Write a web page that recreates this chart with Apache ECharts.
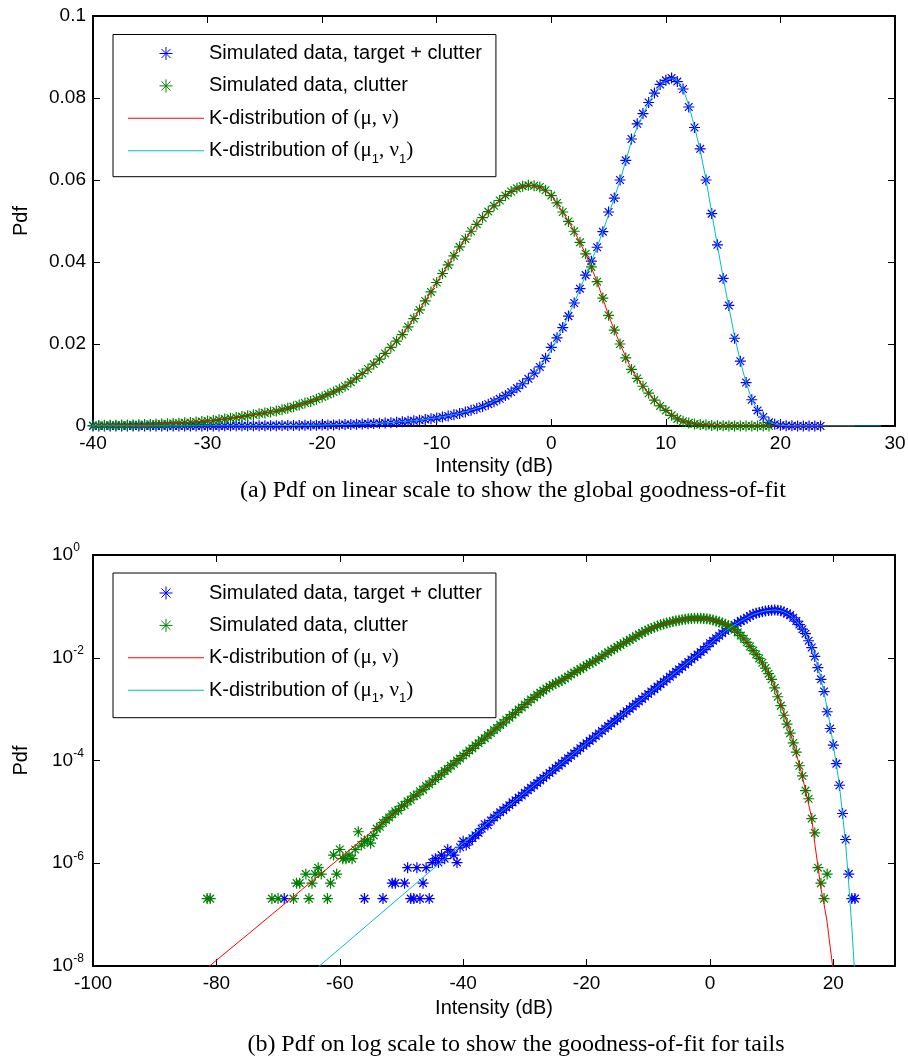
<!DOCTYPE html>
<html>
<head>
<meta charset="utf-8">
<script src="https://cdn.jsdelivr.net/npm/echarts@6.0.0/dist/echarts.min.js"></script>
<style>
html,body{margin:0;padding:0;background:#ffffff;}
#chart{width:908px;height:1059px;}
</style>
</head>
<body>
<div id="chart"></div>
<script>
// ---------------- data ----------------
const seriesNames = [
  'Simulated data, target + clutter',
  'Simulated data, clutter',
  'K-distribution of (\u03bc, \u03bd)',
  'K-distribution of (\u03bc\u2081, \u03bd\u2081)'
];
const captions = [
  '(a) Pdf on linear scale to show the global goodness-of-fit',
  '(b) Pdf on log scale to show the goodness-of-fit for tails'
];
const axisTitleX = 'Intensity (dB)';
const axisTitleY = 'Pdf';
const linearX = [-40, 30, 10];     // min, max, step
const linearY = [0, 0.1, 0.02];
const logX = [-100, 30, 20];
const logYExp = [-8, 0, 2];        // decades shown on the log axis

// histogram bin centres (dB)
const binDb = [
  -81.5,-81,-80.5,-80,-79.5,-79,-78.5,-78,-77.5,-77,
  -76.5,-76,-75.5,-75,-74.5,-74,-73.5,-73,-72.5,-72,
  -71.5,-71,-70.5,-70,-69.5,-69,-68.5,-68,-67.5,-67,
  -66.5,-66,-65.5,-65,-64.5,-64,-63.5,-63,-62.5,-62,
  -61.5,-61,-60.5,-60,-59.5,-59,-58.5,-58,-57.5,-57,
  -56.5,-56,-55.5,-55,-54.5,-54,-53.5,-53,-52.5,-52,
  -51.5,-51,-50.5,-50,-49.5,-49,-48.5,-48,-47.5,-47,
  -46.5,-46,-45.5,-45,-44.5,-44,-43.5,-43,-42.5,-42,
  -41.5,-41,-40.5,-40,-39.5,-39,-38.5,-38,-37.5,-37,
  -36.5,-36,-35.5,-35,-34.5,-34,-33.5,-33,-32.5,-32,
  -31.5,-31,-30.5,-30,-29.5,-29,-28.5,-28,-27.5,-27,
  -26.5,-26,-25.5,-25,-24.5,-24,-23.5,-23,-22.5,-22,
  -21.5,-21,-20.5,-20,-19.5,-19,-18.5,-18,-17.5,-17,
  -16.5,-16,-15.5,-15,-14.5,-14,-13.5,-13,-12.5,-12,
  -11.5,-11,-10.5,-10,-9.5,-9,-8.5,-8,-7.5,-7,
  -6.5,-6,-5.5,-5,-4.5,-4,-3.5,-3,-2.5,-2,
  -1.5,-1,-0.5,0,0.5,1,1.5,2,2.5,3,
  3.5,4,4.5,5,5.5,6,6.5,7,7.5,8,
  8.5,9,9.5,10,10.5,11,11.5,12,12.5,13,
  13.5,14,14.5,15,15.5,16,16.5,17,17.5,18,
  18.5,19,19.5,20,20.5,21,21.5,22,22.5,23,
  23.5
];

// simulated data, target + clutter (blue stars)
const targetPdf = [
  0,0,0,0,0,0,0,0,0,0,
  0,0,0,0,0,0,0,0,0,0,
  0,0,0,0,0,2.05e-7,0,0,0,0,
  0,0,0,0,0,0,0,0,0,0,
  0,0,0,0,0,0,0,0,0,0,
  0,2.05e-7,0,0,0,0,0,2.05e-7,0,0,
  4.1e-7,4.1e-7,0,0,4.1e-7,8.2e-7,2.05e-7,2.05e-7,8.2e-7,2.05e-7,
  4.1e-7,8.2e-7,2.05e-7,1.03e-6,1.23e-6,1.03e-6,1.44e-6,1.23e-6,1.85e-6,1.64e-6,
  1.44e-6,1.03e-6,2.05e-6,2.67e-6,2.26e-6,2.67e-6,3.08e-6,3.49e-6,3.9e-6,4.72e-6,
  5.74e-6,5.54e-6,6.77e-6,7.79e-6,8.6e-6,9.8e-6,1.08e-5,1.22e-5,1.34e-5,1.53e-5,
  1.68e-5,1.9e-5,2.08e-5,2.35e-5,2.63e-5,2.93e-5,3.28e-5,3.66e-5,4.09e-5,4.57e-5,
  5.1e-5,5.7e-5,6.37e-5,7.12e-5,7.95e-5,8.88e-5,9.92e-5,1.11e-4,1.24e-4,1.38e-4,
  1.55e-4,1.73e-4,1.93e-4,2.16e-4,2.41e-4,2.69e-4,3.0e-4,3.36e-4,3.75e-4,4.19e-4,
  4.68e-4,5.23e-4,5.84e-4,6.52e-4,7.28e-4,8.13e-4,9.08e-4,1.01e-3,1.13e-3,1.27e-3,
  1.41e-3,1.58e-3,1.76e-3,1.97e-3,2.2e-3,2.45e-3,2.74e-3,3.06e-3,3.42e-3,3.82e-3,
  4.26e-3,4.76e-3,5.32e-3,5.94e-3,6.63e-3,7.41e-3,8.28e-3,9.24e-3,1.03e-2,1.15e-2,
  1.29e-2,1.44e-2,1.65e-2,1.92e-2,2.15e-2,2.4e-2,2.68e-2,3.0e-2,3.35e-2,3.68e-2,
  4.02e-2,4.36e-2,4.74e-2,5.22e-2,5.56e-2,6.0e-2,6.48e-2,7.0e-2,7.37e-2,7.62e-2,
  7.89e-2,8.12e-2,8.33e-2,8.43e-2,8.49e-2,8.4e-2,8.22e-2,7.78e-2,7.28e-2,6.76e-2,
  6.0e-2,5.18e-2,4.42e-2,3.6e-2,2.94e-2,2.14e-2,1.58e-2,1.06e-2,6.4e-3,3.8e-3,
  2.2e-3,8.9e-4,4.2e-4,2.0e-4,8.7e-5,3.3e-5,9.3e-6,2.9e-6,6.15e-7,2.05e-7,
  2.05e-7
];

// simulated data, clutter only (green stars)
const clutterPdf = [
  2.05e-7,2.05e-7,0,0,0,0,0,0,0,0,
  0,0,0,0,0,0,0,0,0,0,
  0,2.05e-7,0,2.05e-7,0,0,0,0,2.05e-7,4.1e-7,
  4.1e-7,0,6.15e-7,2.05e-7,4.1e-7,6.15e-7,8.2e-7,6.15e-7,0,2.05e-7,
  4.1e-7,1.44e-6,6.15e-7,1.85e-6,1.23e-6,1.23e-6,1.44e-6,1.23e-6,1.85e-6,4.1e-6,
  2.26e-6,2.67e-6,2.87e-6,2.46e-6,3.49e-6,4.72e-6,5.13e-6,6.15e-6,6.97e-6,7.79e-6,
  9.02e-6,1.03e-5,1.07e-5,1.29e-5,1.36e-5,1.6e-5,1.72e-5,2.03e-5,2.15e-5,2.52e-5,
  2.71e-5,3.18e-5,3.44e-5,3.99e-5,4.31e-5,5.02e-5,5.45e-5,6.28e-5,6.85e-5,7.92e-5,
  8.61e-5,9.95e-5,1.09e-4,1.25e-4,1.37e-4,1.57e-4,1.72e-4,1.97e-4,2.16e-4,2.49e-4,
  2.72e-4,3.12e-4,3.42e-4,3.92e-4,4.31e-4,4.94e-4,5.42e-4,6.21e-4,6.82e-4,7.8e-4,
  8.59e-4,9.81e-4,1.08e-3,1.23e-3,1.36e-3,1.54e-3,1.69e-3,1.9e-3,2.08e-3,2.29e-3,
  2.52e-3,2.75e-3,2.98e-3,3.2e-3,3.42e-3,3.65e-3,3.95e-3,4.3e-3,4.72e-3,5.15e-3,
  5.6e-3,6.0e-3,6.5e-3,7.1e-3,7.7e-3,8.3e-3,8.95e-3,9.7e-3,1.07e-2,1.17e-2,
  1.28e-2,1.39e-2,1.51e-2,1.63e-2,1.77e-2,1.92e-2,2.07e-2,2.23e-2,2.42e-2,2.62e-2,
  2.83e-2,3.05e-2,3.27e-2,3.5e-2,3.72e-2,3.93e-2,4.15e-2,4.37e-2,4.56e-2,4.75e-2,
  4.92e-2,5.08e-2,5.23e-2,5.37e-2,5.5e-2,5.62e-2,5.72e-2,5.8e-2,5.85e-2,5.87e-2,
  5.86e-2,5.83e-2,5.75e-2,5.62e-2,5.44e-2,5.22e-2,4.99e-2,4.75e-2,4.48e-2,4.2e-2,
  3.88e-2,3.52e-2,3.12e-2,2.7e-2,2.34e-2,2.0e-2,1.66e-2,1.38e-2,1.16e-2,9.7e-3,
  8.0e-3,6.3e-3,4.9e-3,3.8e-3,2.6e-3,1.74e-3,1.17e-3,7.6e-4,5.1e-4,3.4e-4,
  2.2e-4,1.45e-4,7.9e-5,5.0e-5,2.6e-5,1.8e-5,7.4e-6,3.9e-6,8.2e-7,4.1e-7,
  2.05e-7,6.15e-7,null,null,null,null,null,null,null,null,
  null
];

// fitted K-distribution of (mu, nu)  (red line)
const clutterFitDb = [
  -82,-80,-75,-70,-65,-60,-55,-50,-45,-40,-35,-30,-28,
  -27,-26,-25,-24,-23,-22,-21,-20,-19,-18,
  -17,-16,-15,-14,-13,-12,-11,-10,-9,-8,
  -7,-6,-5,-4,-3,-2,-1,0,1,2,
  3,4,5,6,7,8,9,10,
  10.5,11,11.5,12,12.5,13,13.5,14,14.5,15,
  15.5,16,16.5,17,17.5,18,18.5,19,19.5,20,
  21,22,24,26.5
];
const clutterFitPdf = [
  8.1e-9,1.29e-8,4.04e-8,1.27e-7,3.99e-7,1.26e-6,3.94e-6,1.24e-5,3.9e-5,1.23e-4,3.86e-4,1.21e-3,1.89e-3,
  2.29e-3,2.75e-3,3.2e-3,3.65e-3,4.3e-3,5.15e-3,6.0e-3,7.1e-3,8.3e-3,9.7e-3,
  1.17e-2,1.39e-2,1.63e-2,1.92e-2,2.23e-2,2.62e-2,3.05e-2,3.5e-2,3.93e-2,4.37e-2,
  4.75e-2,5.08e-2,5.37e-2,5.62e-2,5.8e-2,5.87e-2,5.83e-2,5.62e-2,5.22e-2,4.75e-2,
  4.2e-2,3.52e-2,2.7e-2,2.0e-2,1.38e-2,9.7e-3,6.3e-3,3.8e-3,
  2.7e-3,1.86e-3,1.26e-3,8.3e-4,5.4e-4,3.5e-4,2.2e-4,1.38e-4,8.1e-5,4.8e-5,
  2.6e-5,1.4e-5,7.6e-6,2.4e-6,8.9e-7,3.2e-7,1.6e-7,7.1e-8,2.3e-8,7.9e-9,
  4e-10,1e-11,3e-15,1e-19
];

// fitted K-distribution of (mu1, nu1)  (cyan line)
const targetFitDb = [
  -64,-60,-55,-50,-45,-40,-35,-30,-25,-20,-15,
  -12,-10,-8,-6,-4,
  -3,-2,-1,0,1,2,3,4,5,6,7,8,9,10,
  10.5,11,11.5,12,12.5,13,13.5,14,14.5,15,
  15.5,16,16.5,17,17.5,18,18.5,19,19.5,20,
  20.5,21,21.5,22,22.5,23,23.5,
  24,25,26,27,28.8
];
const targetFitPdf = [
  8.5e-9,2.18e-8,7.1e-8,2.32e-7,7.55e-7,2.46e-6,7.8e-6,2.37e-5,7.18e-5,2.16e-4,6.52e-4,
  1.27e-3,1.97e-3,3.06e-3,4.76e-3,7.41e-3,
  9.24e-3,1.15e-2,1.44e-2,1.86e-2,2.4e-2,3.0e-2,3.68e-2,4.36e-2,5.15e-2,5.98e-2,6.95e-2,7.6e-2,8.13e-2,8.43e-2,
  8.48e-2,8.42e-2,8.22e-2,7.82e-2,7.3e-2,6.72e-2,6.02e-2,5.2e-2,4.4e-2,3.62e-2,
  2.9e-2,2.18e-2,1.58e-2,1.06e-2,6.5e-3,3.9e-3,2.1e-3,1.05e-3,4.7e-4,2.0e-4,
  8.3e-5,3.2e-5,8.9e-6,2.4e-6,4.0e-7,5.6e-8,6.3e-9,
  5e-10,3e-12,1.6e-14,1e-16,1e-20
];

// ---------------- chart ----------------
const FONT = '"Liberation Sans", Arial, sans-serif';
const SERIF = '"Liberation Serif", "Times New Roman", serif';
const BLACK = '#000000';
const COLORS = ['#0000ff', '#008000', '#ff0000', '#00bfbf'];
const STAR = 'path://M0,-1L0,1M-1,0L1,0M-0.7,-0.7L0.7,0.7M-0.7,0.7L0.7,-0.7';
const LINE_ICON = 'path://M0,0H76V1H0Z';

function pairs(xs, ys, logMode) {
  const out = [];
  for (let i = 0; i < xs.length; i++) {
    const v = ys[i];
    if (v === null || v === undefined) continue;
    if (logMode && !(v > 0)) continue;
    out.push([xs[i], v]);
  }
  return out;
}

function starSeries(k, data, xi, yi) {
  return {
    type: 'scatter', name: seriesNames[k], xAxisIndex: xi, yAxisIndex: yi, data: data,
    symbol: STAR, symbolSize: 11, clip: true, silent: true, z: 2,
    itemStyle: { color: COLORS[k], borderColor: COLORS[k], borderWidth: 1.2, opacity: 1 },
    emphasis: { disabled: true }
  };
}
function lineSeries(k, data, xi, yi) {
  return {
    type: 'line', name: seriesNames[k], xAxisIndex: xi, yAxisIndex: yi, data: data,
    symbol: 'none', showSymbol: false, clip: true, silent: true, z: 3,
    lineStyle: { color: COLORS[k], width: 1 }, itemStyle: { color: COLORS[k] },
    emphasis: { disabled: true }
  };
}

function frameAxis(extra) {
  return Object.assign({
    type: 'value',
    axisLine: { show: true, onZero: false, lineStyle: { color: BLACK, width: 2 } },
    axisTick: { show: true, inside: true, length: 7, lineStyle: { color: BLACK, width: 1 } },
    axisLabel: { show: false },
    splitLine: { show: false },
    minorTick: { show: false },
    silent: true
  }, extra);
}
function tickLabel(margin, extra) {
  return Object.assign({ show: true, color: BLACK, fontFamily: FONT, fontSize: 19, margin: margin }, extra || {});
}
const nameStyle = { color: BLACK, fontFamily: FONT, fontSize: 20 };

const legendLabels = {};
legendLabels[seriesNames[0]] = '{t|' + seriesNames[0] + '}';
legendLabels[seriesNames[1]] = '{t|' + seriesNames[1] + '}';
legendLabels[seriesNames[2]] = '{t|K-distribution of }{g|(\u03bc, \u03bd)}';
legendLabels[seriesNames[3]] = '{t|K-distribution of }{g|(\u03bc}{s|1}{g|, \u03bd}{s|1}{g|)}';

function legendFor(top, padTop, padBottom) {
  return {
    show: true, orient: 'vertical', left: 113, top: top,
    padding: [padTop, 14, padBottom, 15],
    itemWidth: 76, itemHeight: 13, itemGap: 2.4,
    backgroundColor: '#ffffff', borderColor: BLACK, borderWidth: 1,
    symbolKeepAspect: true, selectedMode: false, z: 10,
    data: [
      { name: seriesNames[0], icon: STAR, itemStyle: { color: COLORS[0], borderColor: COLORS[0], borderWidth: 1 } },
      { name: seriesNames[1], icon: STAR, itemStyle: { color: COLORS[1], borderColor: COLORS[1], borderWidth: 1 } },
      { name: seriesNames[2], icon: LINE_ICON, itemStyle: { color: COLORS[2], borderWidth: 0 } },
      { name: seriesNames[3], icon: LINE_ICON, itemStyle: { color: COLORS[3], borderWidth: 0 } }
    ],
    formatter: function (n) { return legendLabels[n] || n; },
    textStyle: {
      color: BLACK, fontFamily: FONT, fontSize: 20, lineHeight: 30,
      rich: {
        t: { color: BLACK, fontFamily: FONT, fontSize: 20, lineHeight: 30 },
        g: { color: BLACK, fontFamily: SERIF, fontSize: 21, lineHeight: 30 },
        s: { color: BLACK, fontFamily: FONT, fontSize: 13, lineHeight: 8, verticalAlign: 'bottom' }
      }
    }
  };
}

const option = {
  animation: false,
  backgroundColor: '#ffffff',
  textStyle: { fontFamily: FONT },
  grid: [
    { left: 93, top: 16, width: 802, height: 410, show: false, containLabel: false, outerBoundsMode: 'none' },
    { left: 93, top: 555, width: 802, height: 411, show: false, containLabel: false, outerBoundsMode: 'none' }
  ],
  legend: [legendFor(34.5, 4, 11), legendFor(573, 5, 12.5)],
  xAxis: [
    frameAxis({ gridIndex: 0, position: 'bottom', min: linearX[0], max: linearX[1], interval: linearX[2],
      axisLabel: tickLabel(8), name: axisTitleX, nameLocation: 'middle', nameGap: 30, nameTextStyle: nameStyle }),
    frameAxis({ gridIndex: 0, position: 'top', min: linearX[0], max: linearX[1], interval: linearX[2] }),
    frameAxis({ gridIndex: 1, position: 'bottom', min: logX[0], max: logX[1], interval: logX[2],
      axisLabel: tickLabel(8, { showMaxLabel: false }), name: axisTitleX, nameLocation: 'middle', nameGap: 32, nameTextStyle: nameStyle }),
    frameAxis({ gridIndex: 1, position: 'top', min: logX[0], max: logX[1], interval: logX[2] })
  ],
  yAxis: [
    frameAxis({ gridIndex: 0, position: 'left', min: linearY[0], max: linearY[1], interval: linearY[2],
      axisLabel: tickLabel(7), name: axisTitleY, nameLocation: 'middle', nameGap: 62, nameTextStyle: nameStyle }),
    frameAxis({ gridIndex: 0, position: 'right', min: linearY[0], max: linearY[1], interval: linearY[2] }),
    frameAxis({ gridIndex: 1, position: 'left', min: logYExp[0], max: logYExp[1], interval: logYExp[2],
      axisLabel: tickLabel(41, {
        align: 'left',
        formatter: function (v) { return '{b|10}{p|' + v + '}'; },
        rich: {
          b: { color: BLACK, fontFamily: FONT, fontSize: 19, lineHeight: 26 },
          p: { color: BLACK, fontFamily: FONT, fontSize: 12, lineHeight: 12, verticalAlign: 'top' }
        }
      }),
      name: axisTitleY, nameLocation: 'middle', nameGap: 62, nameTextStyle: nameStyle }),
    frameAxis({ gridIndex: 1, position: 'right', min: logYExp[0], max: logYExp[1], interval: logYExp[2] }),
    { gridIndex: 1, type: 'log', logBase: 10, min: Math.pow(10, logYExp[0]), max: Math.pow(10, logYExp[1]),
      position: 'left', show: false, axisLine: { onZero: false } }
  ],
  series: [
    starSeries(0, pairs(binDb, targetPdf, false), 0, 0),
    starSeries(1, pairs(binDb, clutterPdf, false), 0, 0),
    lineSeries(2, pairs(clutterFitDb, clutterFitPdf, false), 0, 0),
    lineSeries(3, pairs(targetFitDb, targetFitPdf, false), 0, 0),
    starSeries(0, pairs(binDb, targetPdf, true), 2, 4),
    starSeries(1, pairs(binDb, clutterPdf, true), 2, 4),
    lineSeries(2, pairs(clutterFitDb, clutterFitPdf, true), 2, 4),
    lineSeries(3, pairs(targetFitDb, targetFitPdf, true), 2, 4)
  ],
  graphic: [
    { type: 'text', x: 513, y: 491, silent: true,
      style: { text: captions[0], fill: BLACK, fontFamily: SERIF, fontSize: 24, align: 'center', verticalAlign: 'middle', textAlign: 'center', textVerticalAlign: 'middle' } },
    { type: 'text', x: 516, y: 1045, silent: true,
      style: { text: captions[1], fill: BLACK, fontFamily: SERIF, fontSize: 24, align: 'center', verticalAlign: 'middle', textAlign: 'center', textVerticalAlign: 'middle' } }
  ]
};

const chart = echarts.init(document.getElementById('chart'), null, { renderer: 'canvas', width: 908, height: 1059 });
chart.setOption(option);
</script>
</body>
</html>
